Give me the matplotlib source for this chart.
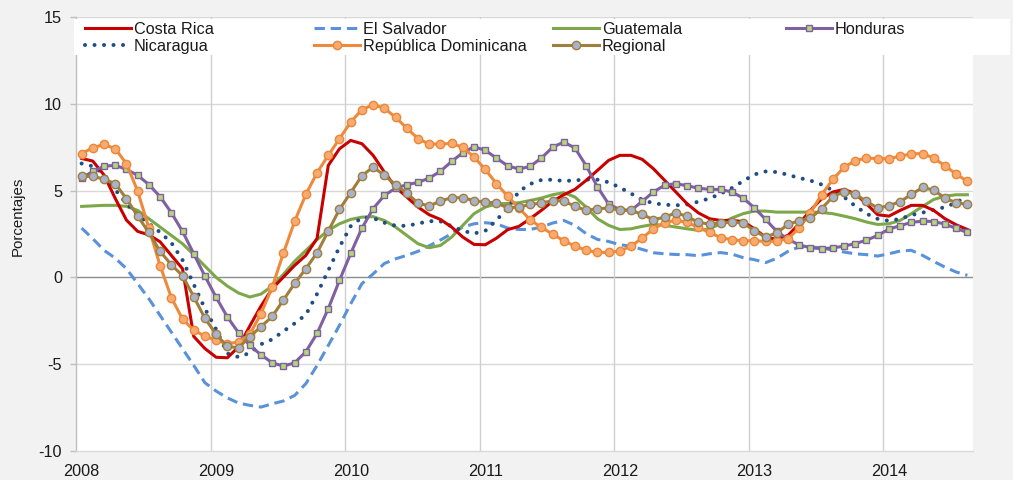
import numpy as np
import matplotlib
matplotlib.use("Agg")
import matplotlib.pyplot as plt
from matplotlib.patches import Rectangle

plt.rcParams['font.family'] = ['Liberation Sans', 'DejaVu Sans']
plt.rcParams['axes.unicode_minus'] = False

# Monthly data, Jan 2008 .. Aug 2014 (80 months)
years = ['2008', '2009', '2010', '2011', '2012', '2013', '2014']

costa_rica = [6.85, 6.7, 5.9, 4.55, 3.3, 2.65, 2.45, 2.05, 1.27, 0.5, -3.4, -4.1,
              -4.6, -4.63, -4.0, -2.8, -1.65, -0.65, 0.02, 0.69, 1.27, 2.25, 6.45, 7.41,
              7.89, 7.70, 7.03, 6.07, 5.20, 4.63, 4.05, 3.61, 3.34, 2.90, 2.32, 1.90,
              1.88, 2.26, 2.75, 2.94, 3.38, 3.86, 4.38, 4.76, 5.07, 5.59, 6.16, 6.74,
              7.03, 7.03, 6.80, 6.26, 5.59, 4.92, 4.24, 3.72, 3.38, 3.28, 3.28, 3.22,
              2.80, 2.32, 2.19, 2.42, 3.09, 3.86, 4.53, 4.92, 5.07, 4.82, 4.24, 3.61,
              3.53, 3.86, 4.15, 4.15, 3.86, 3.38, 3.03, 2.76]

el_salvador = [2.84, 2.23, 1.56, 1.11, 0.50, -0.36, -1.23, -2.19, -3.15, -4.11, -5.07, -6.07,
               -6.55, -6.94, -7.24, -7.37, -7.47, -7.28, -7.12, -6.80, -6.12, -5.07, -3.92, -2.76,
               -1.52, -0.36, 0.2, 0.8, 1.07, 1.27, 1.5, 1.82, 2.15, 2.52, 2.90, 3.09,
               3.15, 3.09, 2.84, 2.76, 2.76, 2.90, 3.13, 3.28, 3.00, 2.52, 2.19, 2.07,
               1.88, 1.80, 1.61, 1.42, 1.36, 1.32, 1.31, 1.25, 1.36, 1.43, 1.34, 1.14,
               1.02, 0.85, 1.1, 1.5, 1.75, 1.75, 1.71, 1.56, 1.46, 1.36, 1.31, 1.23,
               1.36, 1.52, 1.56, 1.27, 0.92, 0.59, 0.31, 0.12]

guatemala = [4.09, 4.12, 4.15, 4.15, 4.09, 3.86, 3.38, 2.90, 2.42, 1.94, 1.31, 0.65,
             0.0, -0.5, -0.9, -1.13, -0.96, -0.5, 0.18, 0.93, 1.55, 2.18, 2.71, 3.09,
             3.34, 3.47, 3.5, 3.28, 2.90, 2.42, 1.94, 1.71, 1.84, 2.32, 3.00, 3.67,
             4.05, 4.24, 4.26, 4.30, 4.43, 4.57, 4.76, 4.88, 4.63, 4.05, 3.38, 3.00,
             2.76, 2.80, 2.94, 3.05, 3.00, 2.90, 2.80, 2.71, 2.80, 3.09, 3.42, 3.67,
             3.82, 3.82, 3.76, 3.76, 3.76, 3.76, 3.74, 3.67, 3.53, 3.38, 3.19, 3.05,
             3.09, 3.28, 3.67, 4.09, 4.49, 4.68, 4.76, 4.76]

honduras = [5.72, 6.11, 6.40, 6.46, 6.22, 5.88, 5.35, 4.65, 3.73, 2.65, 1.36, 0.07,
            -1.15, -2.28, -3.19, -3.92, -4.46, -4.92, -5.11, -4.92, -4.28, -3.23, -1.80, -0.17,
            1.38, 2.84, 3.96, 4.72, 5.14, 5.34, 5.47, 5.72, 6.11, 6.68, 7.18, 7.53,
            7.32, 6.87, 6.43, 6.24, 6.39, 6.87, 7.49, 7.80, 7.45, 6.43, 5.22, 4.23,
            3.90, 3.86, 4.38, 4.92, 5.31, 5.40, 5.28, 5.14, 5.07, 5.07, 4.92, 4.57,
            4.01, 3.34, 2.65, 2.2, 1.87, 1.71, 1.65, 1.70, 1.80, 1.95, 2.14, 2.42,
            2.78, 2.98, 3.17, 3.24, 3.22, 3.07, 2.82, 2.59]

nicaragua = [6.56, 6.4, 5.95, 5.05, 4.25, 3.6, 3.1, 2.6, 2.0, 1.0, -0.4, -1.8,
             -3.0, -4.38, -4.59, -4.35, -3.85, -3.57, -3.10, -2.65, -2.15, -0.95, 0.4, 1.75,
             2.95, 3.45, 3.42, 3.15, 2.98, 2.97, 3.10, 3.24, 3.23, 2.95, 2.68, 2.53,
             2.68, 3.30, 4.0, 4.95, 5.38, 5.61, 5.63, 5.55, 5.59, 5.64, 5.63, 5.48,
             5.18, 4.83, 4.47, 4.27, 4.19, 4.15, 4.20, 4.36, 4.55, 4.82, 5.15, 5.55,
             5.93, 6.10, 6.07, 5.91, 5.73, 5.58, 5.35, 5.01, 4.63, 4.11, 3.67, 3.37,
             3.26, 3.37, 3.59, 3.73, 3.89, 4.05, 4.30, 4.70]

rep_dominicana = [7.13, 7.47, 7.66, 7.41, 6.55, 4.97, 2.84, 0.68, -1.16, -2.40, -3.05, -3.38,
                  -3.63, -3.82, -3.72, -3.28, -2.09, -0.56, 1.40, 3.23, 4.78, 6.03, 7.03, 7.99,
                  8.95, 9.66, 9.95, 9.75, 9.22, 8.60, 7.99, 7.68, 7.68, 7.72, 7.49, 6.93,
                  6.22, 5.40, 4.67, 4.0, 3.32, 2.88, 2.50, 2.11, 1.80, 1.56, 1.44, 1.44,
                  1.52, 1.79, 2.27, 2.80, 3.15, 3.30, 3.17, 2.88, 2.59, 2.29, 2.17, 2.11,
                  2.11, 2.07, 2.09, 2.23, 2.84, 3.73, 4.77, 5.64, 6.35, 6.72, 6.88, 6.84,
                  6.84, 6.98, 7.12, 7.13, 6.87, 6.43, 5.95, 5.53]

regional = [5.82, 5.82, 5.66, 5.40, 4.53, 3.53, 2.59, 1.50, 0.73, 0.10, -1.11, -2.36,
            -3.28, -3.98, -4.05, -3.41, -2.84, -2.25, -1.30, -0.35, 0.50, 1.42, 2.67, 3.92,
            4.88, 5.86, 6.35, 5.88, 5.34, 4.86, 4.28, 4.11, 4.40, 4.59, 4.59, 4.42,
            4.34, 4.28, 4.01, 4.05, 4.20, 4.28, 4.42, 4.40, 4.09, 3.86, 3.96, 3.99,
            3.88, 3.86, 3.63, 3.32, 3.47, 3.72, 3.51, 3.17, 3.07, 3.13, 3.19, 3.13,
            2.69, 2.32, 2.57, 3.05, 3.27, 3.40, 3.96, 4.65, 4.94, 4.80, 4.38, 3.99,
            4.13, 4.36, 4.78, 5.18, 5.03, 4.57, 4.30, 4.20]

n = len(costa_rica)
x = np.arange(n) + 0.5

W, H = 1013, 480
fig = plt.figure(figsize=(W / 100, H / 100), dpi=100)
fig.patch.set_facecolor('#F2F2F2')
ax = fig.add_axes([76 / W, 1 - 451 / H, (973 - 76) / W, (451 - 17) / H])
ax.set_facecolor('white')

lw = 2.2
styles = {
    'El Salvador': dict(color='#5A92DA', lw=lw, linestyle=(0, (3.4, 1.9))),
    'Guatemala': dict(color='#7DA84A', lw=lw),
    'Nicaragua': dict(color='#1F4E86', lw=2.9, linestyle=(0, (0.01, 2.35)),
                      dash_capstyle='round'),
    'Costa Rica': dict(color='#C80000', lw=lw),
    'Honduras': dict(color='#7F60A0', lw=lw, marker='s', markersize=4.3,
                     markerfacecolor='#B5D77A', markeredgecolor='#7F60A0',
                     markeredgewidth=1.0),
    'República Dominicana': dict(color='#EE8A3C', lw=lw, marker='o', markersize=6.0,
                                 markerfacecolor='#F9AA70', markeredgecolor='#EA8838',
                                 markeredgewidth=1.0),
    'Regional': dict(color='#A07E3C', lw=lw, marker='o', markersize=6.0,
                     markerfacecolor='#A9B2CB', markeredgecolor='#A07E3C',
                     markeredgewidth=1.0),
}
series = {
    'El Salvador': el_salvador,
    'Guatemala': guatemala,
    'Nicaragua': nicaragua,
    'Costa Rica': costa_rica,
    'Honduras': honduras,
    'República Dominicana': rep_dominicana,
    'Regional': regional,
}
handles = {}
for name, vals in series.items():
    handles[name], = ax.plot(x, vals, label=name, zorder=3, **styles[name])

ax.set_xlim(0, 80)
ax.set_ylim(-10, 15)

# grid
for yv in [-5, 5, 10, 15]:
    ax.axhline(yv, color='#D9D9D9', lw=1.0, zorder=1)
ax.axhline(0, color='#8C8C8C', lw=1.0, zorder=1)
for k in range(1, 7):
    ax.axvline(12 * k, color='#CFCFCF', lw=1.0, zorder=1)

for s in ['top', 'right']:
    ax.spines[s].set_visible(False)
ax.spines['left'].set_color('#BFBFBF')
ax.spines['left'].set_linewidth(1.0)
ax.spines['bottom'].set_color('#D9D9D9')
ax.spines['bottom'].set_linewidth(1.0)

ax.set_yticks([-10, -5, 0, 5, 10, 15])
ax.set_yticklabels(['-10', '-5', '0', '5', '10', '15'])
ax.tick_params(axis='y', length=4, width=1, color='#BFBFBF', pad=6,
               labelsize=11.7, labelcolor='#1A1A1A')

ax.set_xticks([12 * k for k in range(7)])
ax.set_xticklabels([])
ax.tick_params(axis='x', which='major', length=0)
ax.set_xticks([12 * k + 0.5 for k in range(7)], minor=True)
ax.set_xticklabels(years, minor=True)
ax.tick_params(axis='x', which='minor', length=0, pad=9, labelsize=11.7,
               labelcolor='#1A1A1A')

ax.set_ylabel('Porcentajes', fontsize=10.8, color='#1A1A1A')
ax.yaxis.set_label_coords(-0.057, 0.54)

# legend background box
fig.add_artist(Rectangle((74 / W, 1 - 55 / H), (1010 - 74) / W, (55 - 18.5) / H,
                         transform=fig.transFigure, facecolor='white',
                         edgecolor='none', zorder=5))

cols = [(['Costa Rica', 'Nicaragua'], 85),
        (['El Salvador', 'República Dominicana'], 314),
        (['Guatemala', 'Regional'], 553),
        (['Honduras'], 786)]
for names, x0 in cols:
    leg = fig.legend([handles[nm] for nm in names], names, loc='upper left',
                     bbox_to_anchor=(x0 / W, 1 - 21.5 / H), frameon=False,
                     fontsize=11.7, handlelength=2.8, handletextpad=0.2,
                     borderpad=0, borderaxespad=0, labelspacing=0.16,
                     numpoints=1, markerscale=1.0)
    leg.set_zorder(6)
    for t in leg.get_texts():
        t.set_color('#1A1A1A')

fig.savefig('out.png', dpi=100, facecolor=fig.get_facecolor())
